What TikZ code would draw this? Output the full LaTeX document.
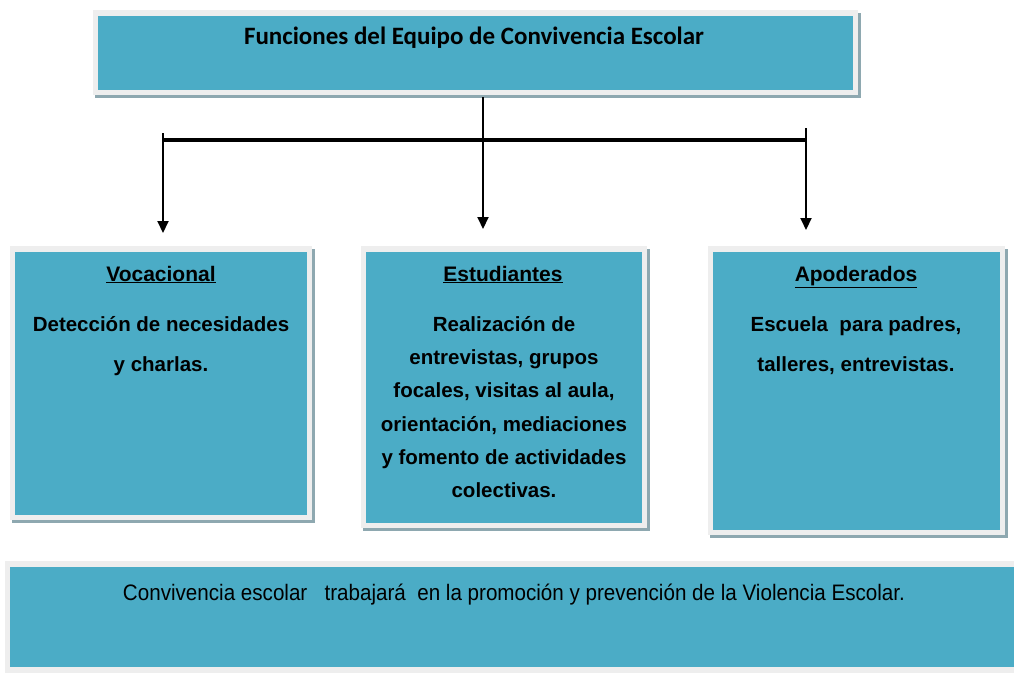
\documentclass[tikz,border=0pt]{standalone}
\usepackage{fontspec}
\setmainfont{Liberation Sans}
\newfontfamily\calib{Carlito}
\usetikzlibrary{arrows.meta}
\definecolor{boxblue}{HTML}{4BACC6}
\definecolor{framegray}{HTML}{EEEEEE}
\definecolor{shadowc}{HTML}{8EA8B0}
\newcommand\shbox[4]{%
  \fill[shadowc] (#1-3,#2-3) rectangle (#3+8,#4+8);
  \fill[framegray] (#1-5,#2-6) rectangle (#3+5,#4+5);
}
\tikzset{
  bluebox/.style={fill=boxblue, draw=none, inner sep=0pt, anchor=north west},
  head/.style={font=\bfseries\fontsize{21}{24}\selectfont, inner sep=0pt, anchor=base},
  body/.style={align=center, inner sep=0pt, anchor=north},
  conn/.style={line width=2pt, draw=black},
  bar/.style={line width=3.5pt, draw=black},
  arr/.style={line width=2pt, draw=black, -{Triangle[length=12pt,width=11pt]}},
}
\begin{document}
\begin{tikzpicture}[x=1pt,y=-1pt]
\useasboundingbox (0,0) rectangle (1014,673);
\fill[white] (0,0) rectangle (1014,673);

% top box
\shbox{98}{16}{853}{90}
\node[bluebox, minimum width=755pt, minimum height=74pt] (top) at (98,16) {};
\node[inner sep=0pt] (ttl) at (474,38) {\calib\bfseries\fontsize{25}{29}\selectfont Funciones del Equipo de Convivencia Escolar};

% three boxes
\shbox{15}{252}{307}{515}
\node[bluebox, minimum width=292pt, minimum height=263pt] (voc) at (15,252) {};
\shbox{366}{252}{642}{523}
\node[bluebox, minimum width=276pt, minimum height=271pt] (est) at (366,252) {};
\shbox{713}{252}{1000}{530}
\node[bluebox, minimum width=287pt, minimum height=278pt] (apo) at (713,252) {};

\node[head] (vocH) at (161,281) {\underline{Vocacional}};
\node[head] (estH) at (503,281) {\underline{Estudiantes}};
\node[head] (apoH) at (856,281) {\underline{Apoderados}};

\node[body, font=\bfseries\fontsize{20.5}{40}\selectfont] (vocT) at (161,316)
  {Detección de necesidades\\y charlas.};
\node[body, font=\bfseries\fontsize{20.5}{33.3}\selectfont] (estT) at (504,316)
  {Realización de\\entrevistas, grupos\\focales, visitas al aula,\\orientación, mediaciones\\y fomento de actividades\\colectivas.};
\node[body, font=\bfseries\fontsize{20.5}{40}\selectfont] (apoT) at (856,316)
  {Escuela\ \ para padres,\\talleres, entrevistas.};

% bottom box
\fill[framegray] (5,561) rectangle (1014,673);
\node[bluebox, minimum width=1004pt, minimum height=100pt] (bot) at (10,567) {};
\node[inner sep=0pt] (botT) at (514,595) {\fontsize{22.4}{26}\selectfont\scalebox{0.92}[1]{Convivencia escolar\ \ \ trabajará\ \ en la promoción y prevención de la Violencia Escolar.}};

% connectors
\coordinate (bl) at (163,140);
\coordinate (bm) at (483,140);
\coordinate (br) at (806,140);
\draw[conn] ([yshift=-7pt]bm |- top.south) -- (bm);
\draw[bar] (bl) -- (br);
\draw[arr, shorten >=19pt] ([yshift=7pt]bl) -- (bl |- voc.north);
\draw[arr, shorten >=23pt] (bm) -- (bm |- est.north);
\draw[arr, shorten >=22pt] ([yshift=12pt]br) -- (br |- apo.north);
\end{tikzpicture}
\end{document}
